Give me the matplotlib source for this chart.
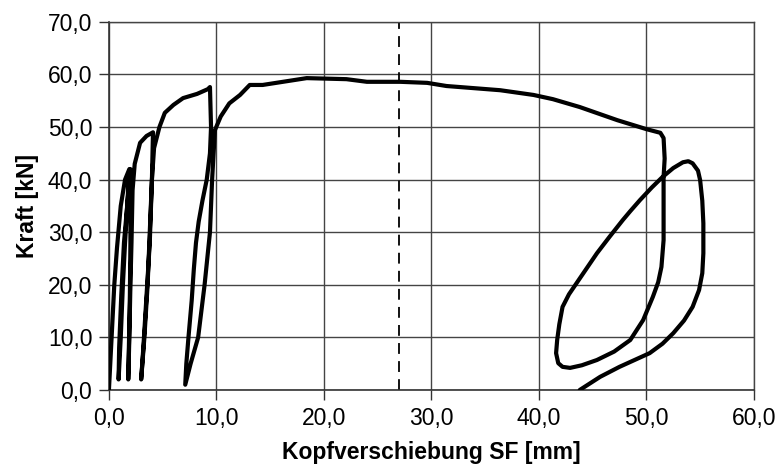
import numpy as np
import matplotlib.pyplot as plt
from matplotlib.ticker import FuncFormatter

# Kopfverschiebung SF [mm] / Kraft [kN]
weg = [
    0.0, 0.25, 0.5, 0.75, 1.1, 1.5, 1.9,
    1.7, 1.4, 1.15, 0.95, 0.9,
    1.1, 1.3, 1.5, 1.7, 1.9, 2.0,
    2.0, 2.0, 1.95, 1.85, 1.8,
    1.9, 2.0, 2.1, 2.2, 2.4, 2.9, 3.5, 4.1,
    4.0, 3.8, 3.5, 3.2, 3.0,
    3.3, 3.6, 3.8, 4.0, 4.2, 4.7, 5.2, 6.0, 6.9, 8.2, 9.2, 9.4,
    9.5, 9.4, 9.1, 8.7, 8.35, 8.1, 7.9, 7.7, 7.4, 7.2, 7.1,
    7.6, 8.3, 8.9, 9.4, 9.6, 9.86, 10.4, 11.2, 12.2, 13.1, 14.3,
    18.4, 22.1, 24.0, 27.1, 29.6, 31.4, 36.4, 39.5, 41.3, 43.8, 47.3,
    50.0, 51.3, 51.6, 51.7, 51.6, 51.6, 51.6, 51.4, 51.1, 50.6, 49.7,
    48.5, 47.0, 45.4, 44.0, 42.9, 42.2, 41.8, 41.6, 41.7, 41.9, 42.2,
    42.8, 43.5, 44.4, 45.4, 46.6, 47.8, 48.5, 49.4, 50.5, 51.5, 52.5,
    53.4, 53.9, 54.3, 54.8, 55.0, 55.2, 55.3, 55.3, 55.2, 54.9, 54.3,
    53.5, 52.5, 51.5, 50.3, 49.0, 47.5, 45.7, 43.8,
]
kraft = [
    0.0, 10.0, 20.0, 27.0, 35.0, 40.0, 42.0,
    35.0, 28.0, 18.0, 8.0, 2.0,
    10.0, 20.0, 28.0, 35.0, 40.0, 42.0,
    35.0, 28.0, 18.0, 8.0, 2.0,
    10.0, 20.0, 28.0, 38.0, 43.0, 47.0, 48.3, 49.0,
    40.0, 28.0, 18.0, 8.0, 2.0,
    10.0, 20.0, 30.0, 40.0, 46.0, 50.0, 52.7, 54.2, 55.5, 56.3, 57.2, 57.6,
    50.0, 45.0, 40.0, 36.0, 32.0, 28.0, 23.0, 17.0, 10.0, 5.0, 1.0,
    5.0, 10.0, 20.0, 30.0, 40.0, 49.4, 52.0, 54.5, 56.1, 58.0, 58.0,
    59.3, 59.1, 58.6, 58.6, 58.4, 57.8, 57.0, 56.1, 55.3, 53.8, 51.3,
    49.6, 48.9, 47.9, 44.0, 40.5, 34.8, 28.5, 23.4, 20.5, 17.7, 13.3,
    9.5, 7.3, 5.7, 4.7, 4.2, 4.4, 5.1, 7.0, 9.5, 12.5, 15.8,
    18.2, 20.3, 23.0, 26.0, 29.2, 32.3, 34.0, 36.1, 38.5, 40.5, 42.2,
    43.3, 43.5, 43.1, 41.7, 39.9, 36.0, 31.7, 26.0, 22.2, 19.0, 15.8,
    13.2, 10.8, 8.8, 7.0, 5.8, 4.4, 2.5, 0.0,
]
marke_x = 27.0

x_ticks = [0, 10, 20, 30, 40, 50, 60]
y_ticks = [0, 10, 20, 30, 40, 50, 60, 70]

plt.rcParams['font.family'] = ['Liberation Sans', 'DejaVu Sans']

fig = plt.figure(figsize=(7.78, 4.75), dpi=100)
ax = fig.add_axes([0.140, 0.179, 0.829, 0.775])

ax.plot(weg, kraft, color='black', linewidth=3.0, solid_joinstyle='round',
        solid_capstyle='round', zorder=3)
ax.axvline(marke_x, color='black', linewidth=1.3, linestyle=(0, (6, 4)), zorder=2)

ax.set_xlim(0, 60)
ax.set_ylim(0, 70)
ax.set_xticks(x_ticks)
ax.set_yticks(y_ticks)
komma = FuncFormatter(lambda v, p: f"{v:.1f}".replace('.', ','))
ax.xaxis.set_major_formatter(komma)
ax.yaxis.set_major_formatter(komma)

ax.grid(True, color='#444444', linewidth=1.0)
ax.set_axisbelow(True)
for s in ['top', 'right']:
    ax.spines[s].set_color('#444444')
    ax.spines[s].set_linewidth(1.0)
for s in ['left', 'bottom']:
    ax.spines[s].set_color('#333333')
    ax.spines[s].set_linewidth(1.2)

ax.tick_params(axis='both', direction='out', length=7, width=1.0,
               color='#333333', labelsize=16.5, pad=5)

ax.set_xlabel('Kopfverschiebung SF [mm]', fontsize=16.5, fontweight='bold', labelpad=8)
ax.set_ylabel('Kraft [kN]', fontsize=16.5, fontweight='bold', labelpad=6)

fig.savefig('out.png', dpi=100)
